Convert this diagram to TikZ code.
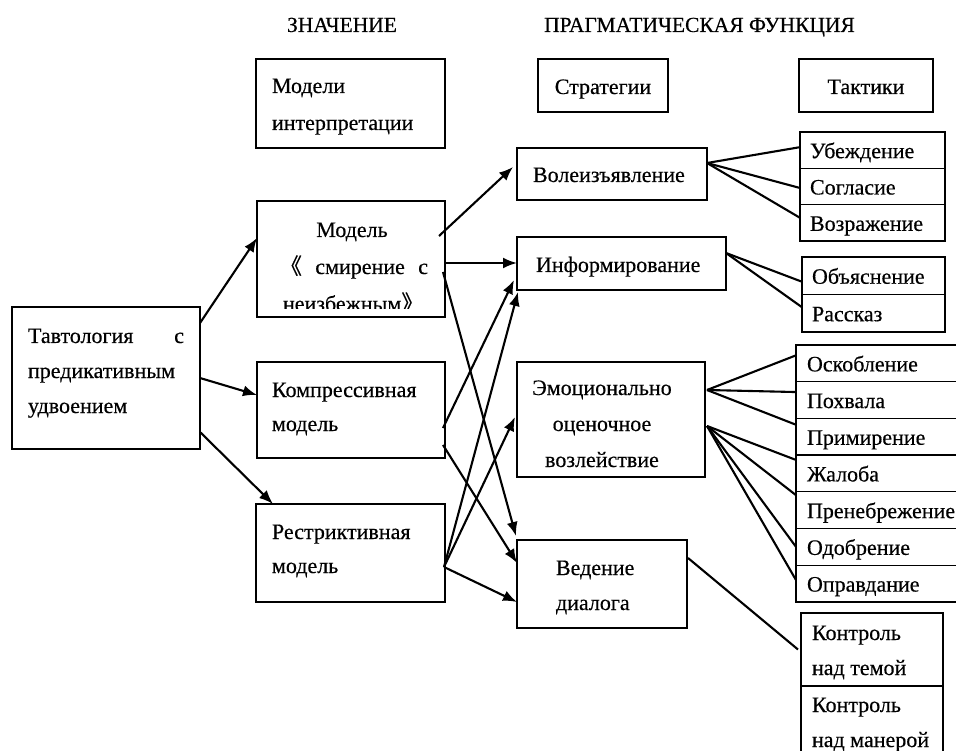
\documentclass[tikz,border=0pt]{standalone}
\usepackage{fontspec}
\setmainfont[FakeBold=0.4]{Liberation Serif}
\newfontfamily\cjkfont[FakeBold=0.4]{Noto Sans CJK SC}
\usetikzlibrary{arrows.meta}
\begin{document}
\begin{tikzpicture}[x=1pt,y=-1pt,
  font=\fontsize{22}{26}\selectfont,
  mbox/.style={draw, line width=2.3pt, inner sep=0pt, outer sep=0pt, anchor=north west},
  tbox/.style={draw, line width=1.3pt, inner xsep=10pt, inner ysep=0pt, outer sep=0pt,
               anchor=north west, align=left, text height=20pt, text depth=4pt},
  tx/.style={inner sep=0pt, outer sep=0pt, anchor=base west},
  txc/.style={inner sep=0pt, outer sep=0pt, anchor=base},
  hdr/.style={inner sep=0pt, outer sep=0pt, anchor=base, font=\fontsize{21.5}{25}\selectfont},
  arr/.style={line width=2.1pt, -{Latex[length=14pt,width=11pt]}},
  lnk/.style={line width=2.1pt},
]
\useasboundingbox (0,0) rectangle (956,751);
\fill[white] (0,0) rectangle (956,751);

% headers
\node[hdr] (h1) at (342,32) {ЗНАЧЕНИЕ};
\node[hdr] (h2) at (699.5,32) {ПРАГМАТИЧЕСКАЯ ФУНКЦИЯ};

% column heads
\node[mbox, minimum width=189pt, minimum height=89pt] (mi) at (256,59) {};
\node[tx] (mi1) at (272,93) {Модели};
\node[tx] (mi2) at (272,130) {интерпретации};
\node[mbox, minimum width=130pt, minimum height=53pt] (st) at (538,59) {};
\node[txc] (st1) at (603,94) {Стратегии};
\node[mbox, minimum width=134pt, minimum height=53pt] (tk) at (799,59) {};
\node[txc] (tk1) at (866,94) {Тактики};

% source
\node[mbox, minimum width=188pt, minimum height=142pt] (T) at (12,307) {};
\node[tx] (T1) at (28,343) {\makebox[156pt][l]{Тавтология\hfill с}};
\node[tx] (T2) at (28,378) {предикативным};
\node[tx] (T3) at (28,413) {удвоением};

% models
\node[mbox, minimum width=188pt, minimum height=116pt] (M1) at (257,201) {};
\node[txc] (M1a) at (352,237) {Модель};
\node[tx] (M1b) at (280,274) {\makebox[148pt][l]{{\cjkfont 《}\hfill смирение\hfill с}};
\begin{scope}
  \clip (258,290) rectangle (444,308.5);
  \node[tx] (M1c) at (283,311) {неизбежным{\cjkfont 》}};
\end{scope}

\node[mbox, minimum width=188pt, minimum height=96pt] (M2) at (257,362) {};
\node[tx] (M2a) at (272,397) {Компрессивная};
\node[tx] (M2b) at (272,431) {модель};

\node[mbox, minimum width=189pt, minimum height=98pt] (M3) at (256,504) {};
\node[tx] (M3a) at (272,539) {Рестриктивная};
\node[tx] (M3b) at (272,573) {модель};

% strategies
\node[mbox, minimum width=190pt, minimum height=52pt] (S1) at (517,148) {};
\node[tx] (S1a) at (533,182) {Волеизъявление};
\node[mbox, minimum width=209pt, minimum height=53pt] (S2) at (517,237) {};
\node[tx] (S2a) at (536,272) {Информирование};
\node[mbox, minimum width=188pt, minimum height=115pt] (S3) at (517,362) {};
\node[txc] (S3a) at (602,395) {Эмоционально};
\node[txc] (S3b) at (602,431) {оценочное};
\node[txc] (S3c) at (602,467) {возлействие};
\node[mbox, minimum width=170pt, minimum height=88pt] (S4) at (517,540) {};
\node[tx] (S4a) at (556,575) {Ведение};
\node[tx] (S4b) at (556,610) {диалога};

% tactics group 1
\node[tbox, text width=125pt, minimum height=36.33pt] (a1) at (800,132) {Убеждение};
\node[tbox, text width=125pt, minimum height=36.33pt] (a2) at (a1.south west) {Согласие};
\node[tbox, text width=125pt, minimum height=36.33pt] (a3) at (a2.south west) {Возражение};
% group 2
\node[tbox, text width=123pt, minimum height=37.5pt] (b1) at (802,257) {Объяснение};
\node[tbox, text width=123pt, minimum height=37.5pt] (b2) at (b1.south west) {Рассказ};
% group 3
\tikzset{g3/.style={tbox, inner xsep=11pt, text width=160pt, minimum height=36.7pt}}
\node[g3] (c1) at (796,345) {Оскобление};
\node[g3] (c2) at (c1.south west) {Похвала};
\node[g3] (c3) at (c2.south west) {Примирение};
\node[g3] (c4) at (c3.south west) {Жалоба};
\node[g3] (c5) at (c4.south west) {Пренебрежение};
\node[g3] (c6) at (c5.south west) {Одобрение};
\node[g3] (c7) at (c6.south west) {Оправдание};
% group 4
\node[tbox, text width=122pt, minimum height=73pt] (k1) at (801,613) {};
\node[tbox, text width=122pt, minimum height=73pt] (k2) at (k1.south west) {};
\node[tx] (k1a) at (812,640) {Контроль};
\node[tx] (k1b) at (812,675) {над темой};
\node[tx] (k2a) at (812,712) {Контроль};
\node[tx] (k2b) at (812,747) {над манерой};

% arrows source -> models
\draw[arr] ([yshift=-16pt]T.north east) -- ([yshift=-37pt]M1.north west);
\draw[arr] (T.east) -- ([yshift=-33pt]M2.north west);
\draw[arr] ([yshift=17pt]T.south east) -- ([xshift=17pt]M3.north west);

% arrows models -> strategies
\draw[arr] ([xshift=-6pt,yshift=-35pt]M1.north east) -- ([xshift=-4pt,yshift=-19pt]S1.north west);
\draw[arr] ([yshift=-62pt]M1.north east) -- ([yshift=-26pt]S2.north west);
\draw[arr] ([xshift=-2pt,yshift=-71pt]M1.north east) -- ([xshift=-1pt,yshift=4pt]S4.north west);
\draw[arr] ([xshift=-2pt,yshift=-66pt]M2.north east) -- ([xshift=-3pt,yshift=10pt]S2.south west);
\draw[arr] ([xshift=-2pt,yshift=-83pt]M2.north east) -- ([yshift=-23pt]S4.north west);
\draw[arr] ([xshift=-1pt,yshift=-63pt]M3.north east) -- ([xshift=1pt,yshift=-2pt]S2.south west);
\draw[arr] ([xshift=-1pt,yshift=-63pt]M3.north east) -- ([xshift=-2pt,yshift=-55pt]S3.north west);
\draw[arr] ([xshift=-1pt,yshift=-63pt]M3.north east) -- ([yshift=-62pt]S4.north west);

% lines strategies -> tactics
\draw[lnk] ([yshift=-15pt]S1.north east) -- ([yshift=3pt]a1.west);
\draw[lnk] ([yshift=-15pt]S1.north east) -- ([yshift=-1.5pt]a2.west);
\draw[lnk] ([yshift=-15pt]S1.north east) -- ([yshift=5pt]a3.west);
\draw[lnk] ([yshift=-16pt]S2.north east) -- ([yshift=-6pt]b1.west);
\draw[lnk] ([yshift=-16pt]S2.north east) -- ([yshift=6pt]b2.west);
\draw[lnk] ([xshift=2pt,yshift=-28pt]S3.north east) -- ([yshift=8pt]c1.west);
\draw[lnk] ([xshift=2pt,yshift=-28pt]S3.north east) -- ([yshift=8pt]c2.west);
\draw[lnk] ([xshift=2pt,yshift=-28pt]S3.north east) -- ([yshift=12pt]c3.west);
\draw[lnk] ([xshift=2pt,yshift=-64pt]S3.north east) -- ([yshift=13.5pt]c4.west);
\draw[lnk] ([xshift=2pt,yshift=-64pt]S3.north east) -- ([yshift=15pt]c5.west);
\draw[lnk] ([xshift=2pt,yshift=-64pt]S3.north east) -- (c6.west);
\draw[lnk] ([xshift=2pt,yshift=-64pt]S3.north east) -- ([yshift=3.5pt]c7.west);
\draw[lnk] ([xshift=1pt,yshift=-18pt]S4.north east) -- ([xshift=-3pt]k1.west);
\end{tikzpicture}
\end{document}
